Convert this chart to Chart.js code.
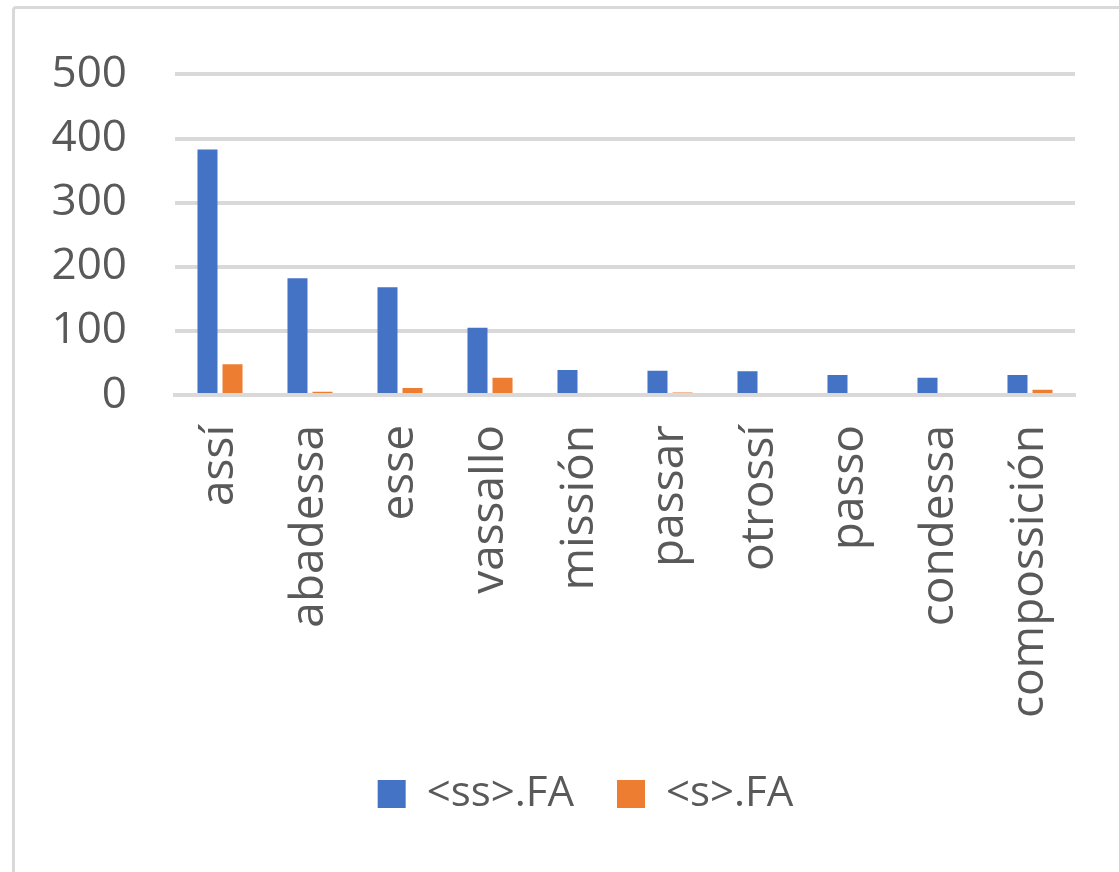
<!DOCTYPE html>
<html>
<head>
<meta charset="utf-8">
<script src="https://cdn.jsdelivr.net/npm/chart.js@4/dist/chart.umd.min.js"></script>
<style>
  html, body { margin: 0; padding: 0; background: #fff; }
  #wrap { position: relative; width: 1119px; height: 872px; overflow: hidden; }
  /* light frame round the chart, its right and bottom run off the page */
  #frame {
    position: absolute; left: 12px; top: 6px; width: 1200px; height: 1000px;
    border: 3px solid #d9d9d9; border-radius: 4px; box-sizing: border-box;
  }
  #chart { position: absolute; left: 0; top: 0; }
</style>
</head>
<body>
<div id="wrap">
  <div id="frame"></div>
  <canvas id="chart" width="1119" height="872"></canvas>
</div>
<script>
// words and counts per spelling
const palabras = ['assí', 'abadessa', 'esse', 'vassallo', 'missión', 'passar', 'otrossí', 'passo', 'condessa', 'compossición'];
const valoresSS = [383, 182, 168, 105, 39, 38, 37, 31, 27, 31];
const valoresS = [48, 5, 11, 27, 0, 4, 3, 0, 0, 8];
const ticksY = [0, 100, 200, 300, 400, 500];

const gris = '#595959';
const fuente = 'Open Sans';

// the legend sits centred on the whole frame, not on the canvas
const legendShift = {
  id: 'legendShift',
  afterLayout(chart) {
    const lg = chart.legend;
    if (lg) {
      lg.left += 28;
      lg.right += 28;
    }
  },
};

new Chart(document.getElementById('chart'), {
  type: 'bar',
  data: {
    labels: palabras,
    datasets: [
      {
        label: '<ss>.FA',
        data: valoresSS,
        backgroundColor: '#4472C4',
        categoryPercentage: 0.556,
        barPercentage: 0.8,
      },
      {
        label: '<s>.FA',
        data: valoresS,
        backgroundColor: '#ED7D31',
        categoryPercentage: 0.556,
        barPercentage: 0.8,
      },
    ],
  },
  plugins: [legendShift],
  options: {
    responsive: false,
    animation: false,
    layout: {
      padding: { left: 40, right: 44, top: 67, bottom: 47 },
    },
    plugins: {
      tooltip: { enabled: false },
      legend: {
        position: 'bottom',
        labels: {
          color: gris,
          font: { family: fuente, size: 42 },
          boxWidth: 28,
          boxHeight: 28,
          padding: 43,
        },
      },
    },
    scales: {
      x: {
        grid: { display: false, drawTicks: false },
        border: { display: true, color: '#d9d9d9', width: 4 },
        ticks: {
          color: gris,
          font: { family: fuente, size: 46 },
          minRotation: 90,
          maxRotation: 90,
          autoSkip: false,
          padding: 30,
        },
        afterFit: (scale) => {
          scale.height = 335;
        },
      },
      y: {
        min: 0,
        max: 500,
        afterBuildTicks: (scale) => {
          scale.ticks = ticksY.map((v) => ({ value: v }));
        },
        grid: { color: '#d9d9d9', lineWidth: 4, drawTicks: false },
        border: { display: false },
        ticks: {
          color: gris,
          font: { family: fuente, size: 44 },
          padding: 48,
        },
        afterFit: (scale) => {
          scale.width = 135;
        },
      },
    },
  },
});
</script>
</body>
</html>
